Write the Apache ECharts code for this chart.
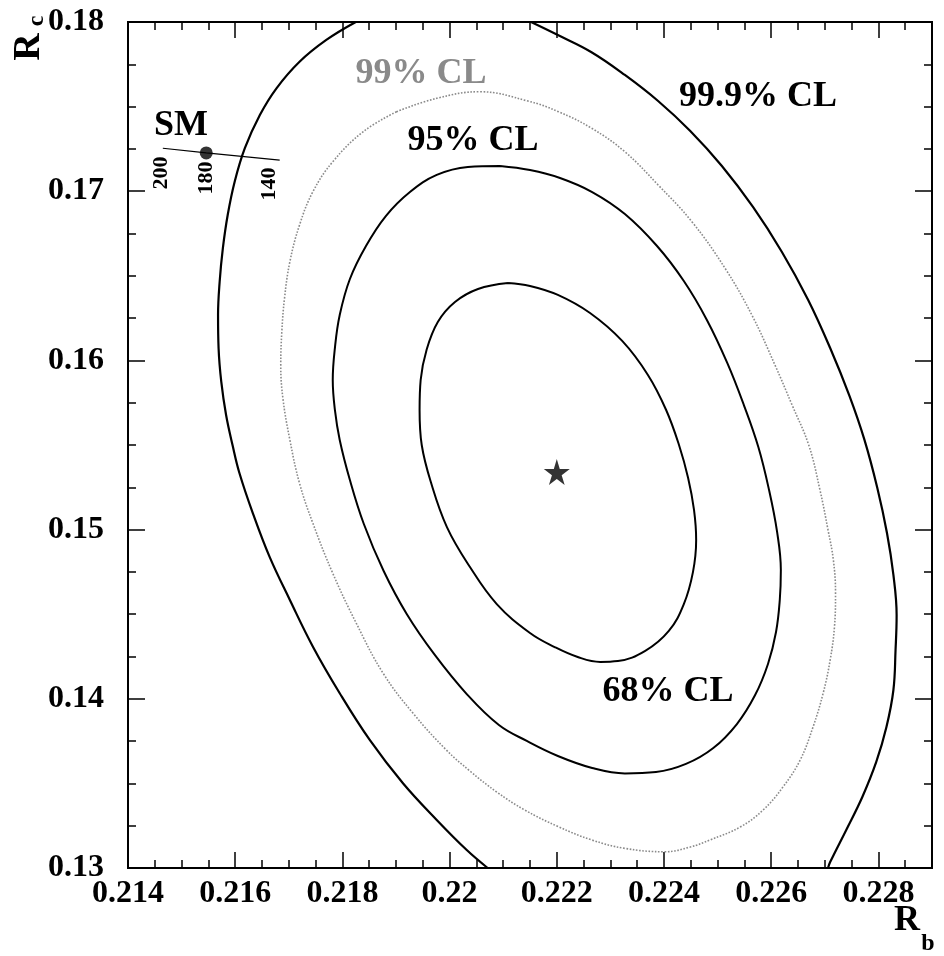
<!DOCTYPE html>
<html lang="en">
<head>
  <meta charset="UTF-8">
  <title>Rb - Rc</title>
  <style>
    html, body { margin: 0; padding: 0; background: #fff; }
    #main { width: 944px; height: 956px; }
  </style>
</head>
<body>
  <div id="main"></div>
  <script src="https://cdn.jsdelivr.net/npm/echarts@6.0.0/dist/echarts.min.js"></script>
  <script>
    // contours, [Rb, Rc]
    var cl68 = [[0.22109,0.16457],[0.2215,0.1644],[0.22202,0.16387],[0.22262,0.1628],[0.22322,0.16115],[0.2237,0.15914],[0.22404,0.15707],[0.22428,0.155],[0.22445,0.15305],[0.22456,0.15116],[0.2246,0.14939],[0.22454,0.14749],[0.22437,0.1456],[0.22409,0.14401],[0.22365,0.14283],[0.22314,0.14223],[0.22281,0.14218],[0.22239,0.14247],[0.22196,0.14306],[0.2215,0.14389],[0.22088,0.1456],[0.22038,0.14779],[0.21995,0.15015],[0.21965,0.15281],[0.21948,0.155],[0.21944,0.15707],[0.21946,0.15884],[0.21957,0.16062],[0.21978,0.16227],[0.2201,0.16345],[0.22053,0.16422],[0.22109,0.16457]];
    var cl95 = [[0.22094,0.17149],[0.2215,0.17125],[0.22206,0.17078],[0.22266,0.16995],[0.22327,0.16865],[0.22387,0.16676],[0.22437,0.16469],[0.2248,0.16239],[0.22518,0.15985],[0.22549,0.15736],[0.22576,0.15488],[0.22596,0.15234],[0.22611,0.14986],[0.22618,0.14761],[0.22616,0.14584],[0.22609,0.14395],[0.22594,0.14206],[0.2257,0.14022],[0.22536,0.13851],[0.22492,0.13709],[0.22441,0.13615],[0.22385,0.13567],[0.22327,0.13559],[0.22266,0.13591],[0.22202,0.13662],[0.22144,0.13751],[0.22092,0.13845],[0.22032,0.14028],[0.21971,0.14265],[0.2192,0.14501],[0.21877,0.14755],[0.2184,0.15033],[0.21814,0.15293],[0.21795,0.1553],[0.21786,0.15707],[0.21782,0.15884],[0.21786,0.16073],[0.21795,0.16268],[0.21814,0.16481],[0.21844,0.16676],[0.21881,0.16853],[0.21926,0.16995],[0.21976,0.17096],[0.22034,0.17143],[0.22094,0.17149]];
    var cl99 = [[0.21901,0.1747],[0.21976,0.17549],[0.22056,0.17588],[0.22146,0.17533],[0.22203,0.1747],[0.22265,0.17372],[0.22327,0.17233],[0.22389,0.17037],[0.22452,0.1682],[0.22514,0.16544],[0.22564,0.16268],[0.22607,0.15973],[0.22639,0.15736],[0.2267,0.155],[0.22691,0.15234],[0.22706,0.14998],[0.22716,0.1482],[0.2272,0.14625],[0.22718,0.14424],[0.2271,0.14229],[0.22697,0.14034],[0.22678,0.13833],[0.22654,0.13638],[0.22622,0.13479],[0.22585,0.13343],[0.22542,0.13242],[0.22486,0.13166],[0.22449,0.13124],[0.22402,0.13096],[0.22327,0.13116],[0.22265,0.13166],[0.22203,0.13244],[0.2214,0.13343],[0.22088,0.13449],[0.22038,0.13573],[0.21994,0.13697],[0.21932,0.13914],[0.21876,0.14151],[0.21826,0.14446],[0.21782,0.14742],[0.21745,0.15037],[0.2172,0.15274],[0.21702,0.1553],[0.21689,0.15776],[0.21685,0.15973],[0.21687,0.1617],[0.21692,0.16367],[0.21702,0.16583],[0.2172,0.168],[0.21745,0.16997],[0.21782,0.17174],[0.21839,0.17352],[0.21901,0.1747]];
    var cl999Left = [[0.21825,0.18],[0.2177,0.17894],[0.2172,0.17765],[0.21677,0.17608],[0.21646,0.1745],[0.21618,0.17254],[0.21599,0.17056],[0.21586,0.16859],[0.21577,0.16663],[0.21571,0.16465],[0.21568,0.16268],[0.21569,0.16072],[0.21574,0.15874],[0.21583,0.15677],[0.21595,0.155],[0.21608,0.15333],[0.21633,0.15096],[0.21664,0.1484],[0.21702,0.14584],[0.21745,0.14308],[0.21795,0.14033],[0.21851,0.13757],[0.21913,0.13501],[0.21976,0.13284],[0.22032,0.13106],[0.22071,0.13]];
    var cl999Right = [[0.22152,0.18],[0.22202,0.17923],[0.22264,0.17823],[0.22327,0.17687],[0.22389,0.17533],[0.22449,0.17356],[0.22508,0.17149],[0.22566,0.16907],[0.2262,0.16641],[0.22669,0.16357],[0.2271,0.16073],[0.22746,0.1579],[0.22774,0.1553],[0.22798,0.15246],[0.22816,0.1498],[0.22828,0.14732],[0.22834,0.14495],[0.22832,0.14288],[0.22828,0.14052],[0.22815,0.13833],[0.22796,0.13627],[0.2277,0.1342],[0.2274,0.13225],[0.2271,0.13035],[0.22706,0.13]];
    var bestFit = [0.222, 0.1534];
    var smPoint = [0.21546, 0.17226];
    var smLine = [[0.21465, 0.17254], [0.21546, 0.17226], [0.21683, 0.17184]];
    var smMassPoints = [[0.21463, 0.17255], [0.21546, 0.17226], [0.21664, 0.1719]];
    var smMassLabels = ['200', '180', '140'];

    var serif = '"Liberation Serif", "Times New Roman", serif';
    var starPath = 'path://M50,0 L61,35 L98,35 L68,57 L79,91 L50,70 L21,91 L32,57 L2,35 L39,35 Z';

    var myChart = echarts.init(document.getElementById('main'), null, { renderer: 'canvas' });

    function xAxisOf(pos, step, len, labels) {
      return {
        type: 'value', position: pos, min: 0.214, max: 0.229, interval: step,
        axisLine: { show: true, onZero: false, lineStyle: { color: '#000', width: 2 } },
        axisTick: { show: true, inside: true, length: len, lineStyle: { color: '#000', width: 1.5 } },
        axisLabel: {
          show: labels, margin: 10, color: '#000', fontFamily: serif, fontWeight: 'bold', fontSize: 32,
          showMaxLabel: false
        },
        splitLine: { show: false }
      };
    }
    function yAxisOf(pos, step, len, labels) {
      return {
        type: 'value', position: pos, min: 0.13, max: 0.18, interval: step,
        axisLine: { show: true, onZero: false, lineStyle: { color: '#000', width: 2 } },
        axisTick: { show: true, inside: true, length: len, lineStyle: { color: '#000', width: 1.5 } },
        axisLabel: { show: labels, margin: 24, color: '#000', fontFamily: serif, fontWeight: 'bold', fontSize: 32 },
        splitLine: { show: false }
      };
    }

    function contour(data, color, type, width) {
      return {
        type: 'line', data: data, showSymbol: false, symbol: 'none', smooth: 0.4,
        xAxisIndex: 0, yAxisIndex: 0, silent: true,
        lineStyle: { color: color, type: type, width: width }
      };
    }

    var option = {
      animation: false,
      backgroundColor: '#fff',
      grid: { left: 128, right: 12, top: 22, bottom: 88, outerBoundsMode: 'none' },
      xAxis: [
        xAxisOf('bottom', 0.002, 16, true),
        xAxisOf('bottom', 0.0005, 8, false),
        xAxisOf('top', 0.002, 16, false),
        xAxisOf('top', 0.0005, 8, false)
      ],
      yAxis: [
        yAxisOf('left', 0.01, 17, true),
        yAxisOf('left', 0.0025, 8, false),
        yAxisOf('right', 0.01, 17, false),
        yAxisOf('right', 0.0025, 8, false)
      ],
      series: [
        contour(cl68, '#000', 'solid', 2),
        contour(cl95, '#000', 'solid', 2),
        contour(cl99, '#8a8a8a', 'dotted', 1.6),
        contour(cl999Left, '#000', 'solid', 2.2),
        contour(cl999Right, '#000', 'solid', 2.2),
        {
          type: 'line', data: smLine, showSymbol: false, symbol: 'none',
          lineStyle: { color: '#000', width: 1.2 }
        },
        {
          type: 'scatter', data: [smPoint], symbol: 'circle', symbolSize: 13,
          itemStyle: { color: '#000' }
        },
        {
          type: 'scatter', data: [bestFit], symbol: starPath, symbolSize: 26,
          itemStyle: { color: '#000' }
        }
      ]
    };
    myChart.setOption(option);

    function txt(x, y, text, size, color, rot) {
      return {
        type: 'text', x: x, y: y, rotation: rot || 0, silent: true,
        style: {
          text: text, fill: color || '#000',
          font: 'bold ' + size + 'px ' + serif,
          align: 'center', verticalAlign: 'middle',
          textAlign: 'center', textVerticalAlign: 'middle'
        }
      };
    }

    var g = [
      txt(421, 74, '99% CL', 36, '#8a8a8a'),
      txt(473, 141, '95% CL', 36),
      txt(758, 97, '99.9% CL', 36),
      txt(668, 692, '68% CL', 36),
      txt(181, 126, 'SM', 36),
      // axis titles
      txt(907, 921, 'R', 36),
      txt(928, 944, 'b', 24),
      txt(29, 47, 'R', 38, '#000', Math.PI / 2),
      txt(37, 21, 'c', 24, '#000', Math.PI / 2)
    ];
    for (var i = 0; i < smMassPoints.length; i++) {
      var p = myChart.convertToPixel({ xAxisIndex: 0, yAxisIndex: 0 }, smMassPoints[i]);
      g.push(txt(p[0], p[1] + 25, smMassLabels[i], 22, '#000', Math.PI / 2));
    }
    myChart.setOption({ graphic: g });
  </script>
</body>
</html>
